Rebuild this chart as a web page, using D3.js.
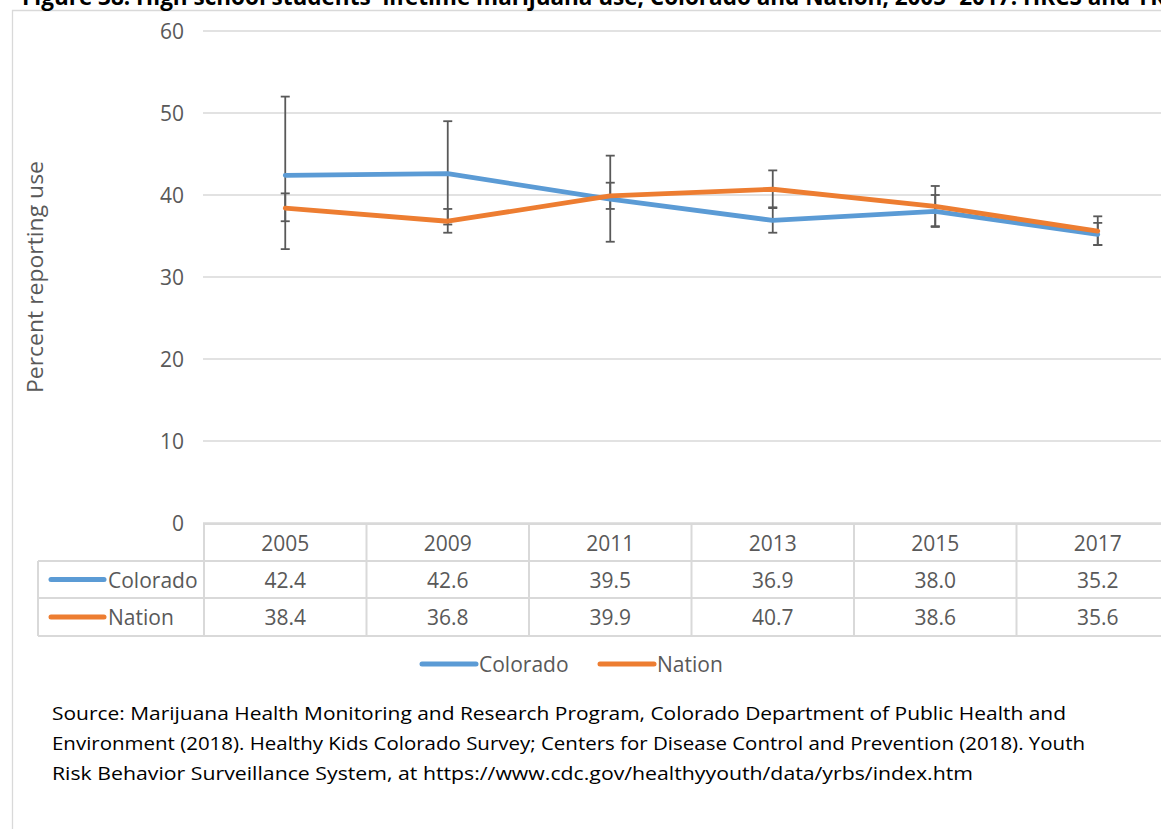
<!DOCTYPE html>
<html>
<head>
<meta charset="utf-8">
<script src="https://cdn.jsdelivr.net/npm/d3@7"></script>
<style>
  html, body { margin: 0; padding: 0; background: #fff; overflow: hidden; }
  svg { display: block; }
</style>
</head>
<body>
<svg id="chart" width="1161" height="829"></svg>
<script>
// ---- data ----
const years = ["2005", "2009", "2011", "2013", "2015", "2017"];
const colorado = [42.4, 42.6, 39.5, 36.9, 38.0, 35.2];
const nation = [38.4, 36.8, 39.9, 40.7, 38.6, 35.6];
const coloradoLow = [33.4, 36.4, 34.3, 35.4, 36.1, 33.9];
const coloradoHigh = [52.0, 49.0, 44.8, 38.4, 40.0, 36.6];
const nationLow = [36.8, 35.4, 38.3, 38.5, 36.2, 33.9];
const nationHigh = [40.2, 38.3, 41.5, 43.0, 41.1, 37.4];
const yTicks = [0, 10, 20, 30, 40, 50, 60];
const seriesNames = ["Colorado", "Nation"];
const seriesColors = ["#5B9BD5", "#ED7D31"];
const titleText = "Figure 38: High school students' lifetime marijuana use, Colorado and Nation, 2005- 2017: HKCS and YRBS";
const yLabel = "Percent reporting use";
const sourceLines = [
  "Source: Marijuana Health Monitoring and Research Program, Colorado Department of Public Health and",
  "Environment (2018). Healthy Kids Colorado Survey; Centers for Disease Control and Prevention (2018). Youth",
  "Risk Behavior Surveillance System, at https://www.cdc.gov/healthyyouth/data/yrbs/index.htm"
];

const series = [
  { name: seriesNames[0], color: seriesColors[0], values: colorado, low: coloradoLow, high: coloradoHigh },
  { name: seriesNames[1], color: seriesColors[1], values: nation, low: nationLow, high: nationHigh }
];

// ---- layout ----
const FONT = "'Open Sans', 'Noto Sans', sans-serif";
const FS = 21;
const TXT = "#595959";
const GRID = "#d9d9d9";
const svg = d3.select("#chart");

const x = d3.scaleBand().domain(years).range([204, 1179]).padding(0);
const y = d3.scaleLinear().domain([0, 60]).range([523, 31]);
const xc = d => x(d) + x.bandwidth() / 2;

// chart frame
svg.append("path")
  .attr("d", "M12.5,900 V10.5 H1200")
  .attr("fill", "none").attr("stroke", GRID).attr("stroke-width", 1.3);

// title (clipped at top, as in the source image)
svg.append("text")
  .attr("x", 22).attr("y", 5)
  .attr("font-family", FONT).attr("font-weight", "bold")
  .attr("font-size", 22.5).attr("fill", "#000")
  .text(titleText);

// gridlines
svg.append("g").selectAll("line").data(yTicks).join("line")
  .attr("x1", 203).attr("x2", 1200)
  .attr("y1", d => y(d)).attr("y2", d => y(d))
  .attr("stroke", GRID).attr("stroke-width", 1.5);

// y tick labels
svg.append("g").selectAll("text").data(yTicks).join("text")
  .attr("x", 184).attr("y", d => y(d))
  .attr("text-anchor", "end").attr("dominant-baseline", "central")
  .attr("font-family", FONT).attr("font-size", FS).attr("fill", TXT)
  .text(d => d);

// y axis label
svg.append("text")
  .attr("transform", "translate(35,277) rotate(-90)")
  .attr("text-anchor", "middle").attr("dominant-baseline", "central")
  .attr("font-family", FONT).attr("font-size", FS).attr("fill", TXT)
  .attr("textLength", 232).attr("lengthAdjust", "spacingAndGlyphs")
  .text(yLabel);

// error bars
const eb = svg.append("g");
series.forEach(s => {
  years.forEach((yr, i) => {
    const cx = xc(yr);
    eb.append("line").attr("x1", cx).attr("x2", cx)
      .attr("y1", y(s.low[i])).attr("y2", y(s.high[i]))
      .attr("stroke", "#595959").attr("stroke-width", 1.8);
    [s.low[i], s.high[i]].forEach(v => {
      eb.append("line").attr("x1", cx - 4.5).attr("x2", cx + 4.5)
        .attr("y1", y(v)).attr("y2", y(v))
        .attr("stroke", "#595959").attr("stroke-width", 1.8);
    });
  });
});

// lines
const line = d3.line().x((d, i) => xc(years[i])).y(d => y(d));
series.forEach(s => {
  svg.append("path").datum(s.values)
    .attr("d", line)
    .attr("fill", "none").attr("stroke", s.color)
    .attr("stroke-width", 4.8).attr("stroke-linejoin", "round").attr("stroke-linecap", "round");
});

// ---- data table ----
const rowY = [524, 561, 598, 636];
const tbl = svg.append("g");
tbl.append("line").attr("x1", 203).attr("x2", 1200).attr("y1", rowY[0]).attr("y2", rowY[0])
  .attr("stroke", GRID).attr("stroke-width", 2);
[1, 2, 3].forEach(k => {
  tbl.append("line").attr("x1", 38).attr("x2", 1200).attr("y1", rowY[k]).attr("y2", rowY[k])
    .attr("stroke", GRID).attr("stroke-width", 2);
});
tbl.append("line").attr("x1", 38).attr("x2", 38).attr("y1", rowY[1]).attr("y2", rowY[3])
  .attr("stroke", GRID).attr("stroke-width", 2);
years.forEach(yr => {
  tbl.append("line").attr("x1", x(yr)).attr("x2", x(yr)).attr("y1", rowY[0]).attr("y2", rowY[3])
    .attr("stroke", GRID).attr("stroke-width", 2);
});
tbl.selectAll("text.hdr").data(years).join("text").attr("class", "hdr")
  .attr("x", d => xc(d)).attr("y", (rowY[0] + rowY[1]) / 2)
  .attr("text-anchor", "middle").attr("dominant-baseline", "central")
  .attr("font-family", FONT).attr("font-size", FS).attr("fill", TXT)
  .text(d => d);
series.forEach((s, si) => {
  const cy = (rowY[si + 1] + rowY[si + 2]) / 2;
  tbl.append("line").attr("x1", 51).attr("x2", 104).attr("y1", cy).attr("y2", cy)
    .attr("stroke", s.color).attr("stroke-width", 5).attr("stroke-linecap", "round");
  tbl.append("text").attr("x", 108).attr("y", cy)
    .attr("dominant-baseline", "central")
    .attr("font-family", FONT).attr("font-size", FS).attr("fill", TXT)
    .text(s.name);
  tbl.selectAll("text.v" + si).data(s.values).join("text").attr("class", "v" + si)
    .attr("x", (d, i) => xc(years[i])).attr("y", cy)
    .attr("text-anchor", "middle").attr("dominant-baseline", "central")
    .attr("font-family", FONT).attr("font-size", FS).attr("fill", TXT)
    .text(d => d.toFixed(1));
});

// ---- legend ----
const legX = [422, 600];
series.forEach((s, si) => {
  const lx = legX[si], ly = 664;
  svg.append("line").attr("x1", lx).attr("x2", lx + 54).attr("y1", ly).attr("y2", ly)
    .attr("stroke", s.color).attr("stroke-width", 5).attr("stroke-linecap", "round");
  svg.append("text").attr("x", lx + 57).attr("y", ly)
    .attr("dominant-baseline", "central")
    .attr("font-family", FONT).attr("font-size", FS).attr("fill", TXT)
    .text(s.name);
});

// ---- source note ----
const srcWidths = [1014, 1033, 921];
svg.append("g").selectAll("text").data(sourceLines).join("text")
  .attr("x", 52).attr("y", (d, i) => 720 + i * 30)
  .attr("font-family", FONT).attr("font-size", 18).attr("fill", "#000")
  .attr("textLength", (d, i) => srcWidths[i]).attr("lengthAdjust", "spacingAndGlyphs")
  .text(d => d);
</script>
</body>
</html>
